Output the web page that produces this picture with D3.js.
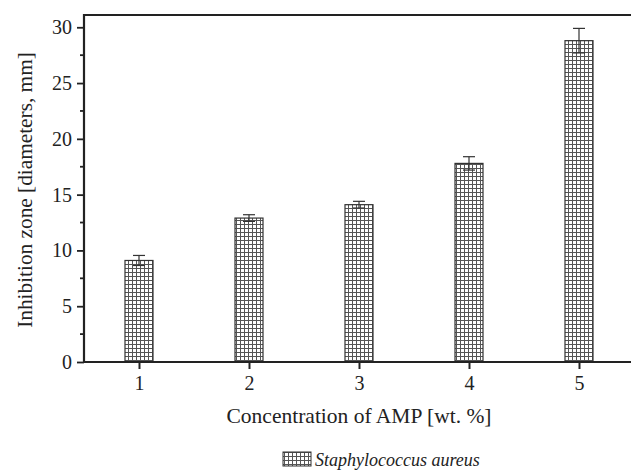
<!DOCTYPE html>
<html><head><meta charset="utf-8">
<script src="https://cdn.jsdelivr.net/npm/d3@7"></script>
<style>
body{margin:0;background:#fff;}
text{font-family:"Liberation Serif","Times New Roman",serif;fill:#222;}
</style></head>
<body><svg id="c" width="631" height="472"></svg>
<script>
const categories = [1, 2, 3, 4, 5];
const values = [9.1, 12.9, 14.1, 17.8, 28.8];
const errors = [0.45, 0.3, 0.3, 0.6, 1.1];
const yTicks = [0, 5, 10, 15, 20, 25, 30];
const xLabel = "Concentration of AMP [wt. %]";
const yLabel = "Inhibition zone [diameters, mm]";
const seriesName = "Staphylococcus aureus";

(function(){
const svg = d3.select("#c");
const mLeft = 84, mTop = 15, mBottom = 362;
const x = d3.scaleLinear().domain([0.5, 5.5]).range([84, 634]);
const y = d3.scaleLinear().domain([0, 31.1]).range([mBottom, mTop]);
const barW = 28;

const defs = svg.append("defs");
const pat = defs.append("pattern").attr("id","grid").attr("patternUnits","userSpaceOnUse")
  .attr("width",4).attr("height",4);
pat.append("rect").attr("width",4).attr("height",4).attr("fill","#fff");
pat.append("path").attr("d","M0,0.5H4M0.5,0V4").attr("stroke","#555").attr("stroke-width",1);

// bars
svg.selectAll("rect.bar").data(categories).join("rect").attr("class","bar")
  .attr("x", d => x(d) - barW/2).attr("width", barW)
  .attr("y", (d,i) => y(values[i])).attr("height", (d,i) => y(0) - y(values[i]))
  .attr("fill","url(#grid)").attr("stroke","#333").attr("stroke-width",1.2);

// error bars
const eb = svg.selectAll("g.err").data(categories).join("g").attr("class","err");
eb.append("line").attr("x1", d=>x(d)).attr("x2", d=>x(d))
  .attr("y1",(d,i)=>y(values[i]-errors[i])).attr("y2",(d,i)=>y(values[i]+errors[i]))
  .attr("stroke","#333").attr("stroke-width",1.2);
eb.append("line").attr("x1", d=>x(d)-6).attr("x2", d=>x(d)+6)
  .attr("y1",(d,i)=>y(values[i]+errors[i])).attr("y2",(d,i)=>y(values[i]+errors[i]))
  .attr("stroke","#333").attr("stroke-width",1.2);
eb.append("line").attr("x1", d=>x(d)-6).attr("x2", d=>x(d)+6)
  .attr("y1",(d,i)=>y(values[i]-errors[i])).attr("y2",(d,i)=>y(values[i]-errors[i]))
  .attr("stroke","#333").attr("stroke-width",1.2);

// frame top
svg.append("line").attr("x1",mLeft).attr("x2",631).attr("y1",mTop).attr("y2",mTop)
  .attr("stroke","#222").attr("stroke-width",2.2);

// y axis
const yAx = svg.append("g").attr("transform",`translate(${mLeft},0)`)
  .call(d3.axisLeft(y).tickValues(yTicks).tickSize(7).tickPadding(5).tickSizeOuter(0));
yAx.select(".domain").remove();
yAx.selectAll(".tick line").attr("stroke","#222").attr("stroke-width",1.8);
yAx.selectAll("text").attr("font-size",20).attr("fill","#222");
const minor = d3.range(2.5, 30, 5);
svg.append("g").selectAll("line").data(minor).join("line")
  .attr("x1",mLeft-4).attr("x2",mLeft).attr("y1",d=>y(d)).attr("y2",d=>y(d))
  .attr("stroke","#222").attr("stroke-width",1.8);
svg.append("line").attr("x1",mLeft).attr("x2",mLeft).attr("y1",mTop-1).attr("y2",mBottom+1)
  .attr("stroke","#222").attr("stroke-width",2.2);

// x axis
const xAx = svg.append("g").attr("transform",`translate(0,${mBottom})`)
  .call(d3.axisBottom(x).tickValues(categories).tickFormat(d3.format("d")).tickSize(7).tickPadding(7).tickSizeOuter(0));
xAx.select(".domain").remove();
xAx.selectAll(".tick line").attr("stroke","#222").attr("stroke-width",2);
xAx.selectAll("text").attr("font-size",20).attr("fill","#222");
svg.append("line").attr("x1",mLeft-1).attr("x2",631).attr("y1",mBottom).attr("y2",mBottom)
  .attr("stroke","#222").attr("stroke-width",2.2);

// titles
svg.append("text").attr("x",359).attr("y",423).attr("text-anchor","middle")
  .attr("font-size",21.5).text(xLabel);
svg.append("text").attr("transform","translate(32,190) rotate(-90)").attr("text-anchor","middle")
  .attr("font-size",21.3).text(yLabel);

// legend
svg.append("rect").attr("x",283).attr("y",452).attr("width",28).attr("height",14)
  .attr("fill","url(#grid)").attr("stroke","#333").attr("stroke-width",1);
svg.append("text").attr("x",315).attr("y",466).attr("font-size",18).attr("font-style","italic")
  .text(seriesName);
})();
</script></body></html>
